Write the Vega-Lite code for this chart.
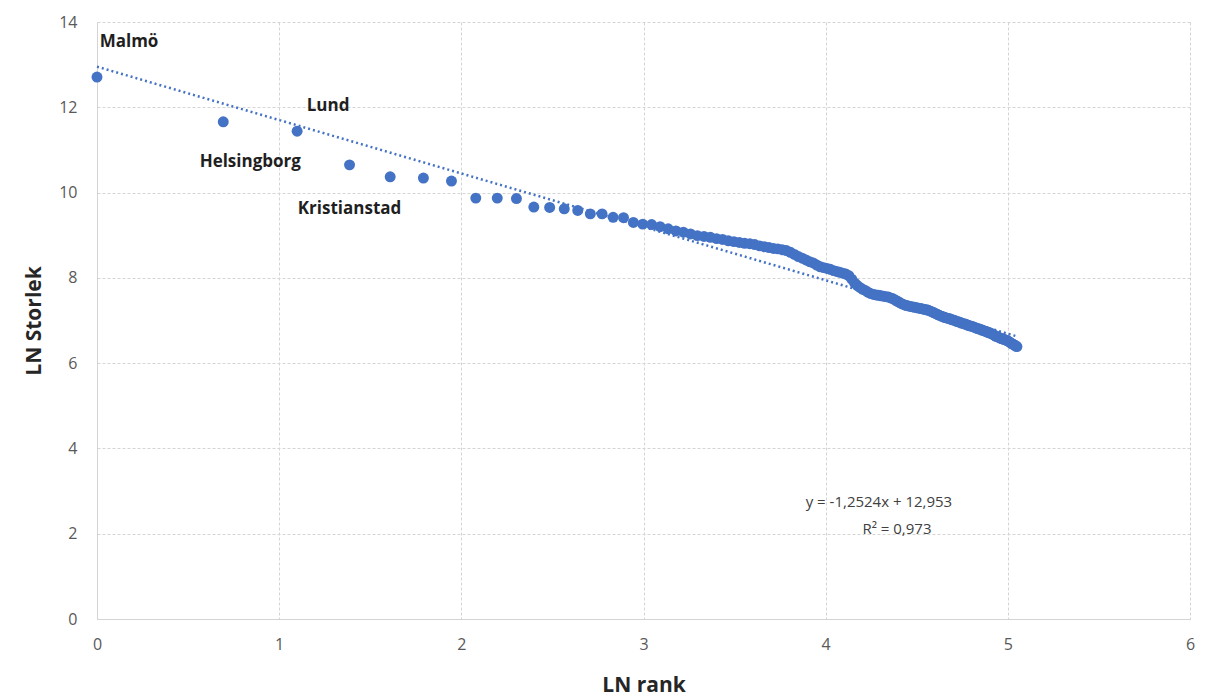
{
  "$schema": "https://vega.github.io/schema/vega-lite/v6.json",
  "width": 1093,
  "height": 597,
  "autosize": {"type": "none"},
  "padding": {"left": 97, "top": 22, "right": 18, "bottom": 79},
  "background": "white",
  "config": {
    "view": {"stroke": null},
    "font": "Open Sans",
    "axis": {
      "gridColor": "#d4d4d4",
      "gridDash": [3, 2],
      "gridWidth": 1,
      "domainColor": "#d4d4d4",
      "ticks": false,
      "labelColor": "#595959",
      "labelFontSize": 16,
      "labelFont": "Open Sans",
      "labelFlush": false,
      "titleFont": "Open Sans",
      "titleFontSize": 21,
      "titleFontWeight": "bold",
      "titleColor": "#262626"
    }
  },
  "datasets": {
    "cities": [
      {"rank": 1, "lnrank": 0, "lnsize": 12.71, "label": "Malmö"},
      {"rank": 2, "lnrank": 0.6931, "lnsize": 11.66, "label": "Helsingborg"},
      {"rank": 3, "lnrank": 1.0986, "lnsize": 11.44, "label": "Lund"},
      {"rank": 4, "lnrank": 1.3863, "lnsize": 10.65, "label": "Kristianstad"},
      {"rank": 5, "lnrank": 1.6094, "lnsize": 10.37},
      {"rank": 6, "lnrank": 1.7918, "lnsize": 10.34},
      {"rank": 7, "lnrank": 1.9459, "lnsize": 10.27},
      {"rank": 8, "lnrank": 2.0794, "lnsize": 9.87},
      {"rank": 9, "lnrank": 2.1972, "lnsize": 9.87},
      {"rank": 10, "lnrank": 2.3026, "lnsize": 9.86},
      {"rank": 11, "lnrank": 2.3979, "lnsize": 9.66},
      {"rank": 12, "lnrank": 2.4849, "lnsize": 9.65},
      {"rank": 13, "lnrank": 2.5649, "lnsize": 9.62},
      {"rank": 14, "lnrank": 2.6391, "lnsize": 9.58},
      {"rank": 15, "lnrank": 2.7081, "lnsize": 9.5},
      {"rank": 16, "lnrank": 2.7726, "lnsize": 9.5},
      {"rank": 17, "lnrank": 2.8332, "lnsize": 9.42},
      {"rank": 18, "lnrank": 2.8904, "lnsize": 9.41},
      {"rank": 19, "lnrank": 2.9444, "lnsize": 9.3},
      {"rank": 20, "lnrank": 2.9957, "lnsize": 9.26},
      {"rank": 21, "lnrank": 3.0445, "lnsize": 9.25},
      {"rank": 22, "lnrank": 3.091, "lnsize": 9.2},
      {"rank": 23, "lnrank": 3.1355, "lnsize": 9.15},
      {"rank": 24, "lnrank": 3.1781, "lnsize": 9.1},
      {"rank": 25, "lnrank": 3.2189, "lnsize": 9.07},
      {"rank": 26, "lnrank": 3.2581, "lnsize": 9.03},
      {"rank": 27, "lnrank": 3.2958, "lnsize": 8.99},
      {"rank": 28, "lnrank": 3.3322, "lnsize": 8.97},
      {"rank": 29, "lnrank": 3.3673, "lnsize": 8.95},
      {"rank": 30, "lnrank": 3.4012, "lnsize": 8.92},
      {"rank": 31, "lnrank": 3.434, "lnsize": 8.9},
      {"rank": 32, "lnrank": 3.4657, "lnsize": 8.87},
      {"rank": 33, "lnrank": 3.4965, "lnsize": 8.85},
      {"rank": 34, "lnrank": 3.5264, "lnsize": 8.83},
      {"rank": 35, "lnrank": 3.5553, "lnsize": 8.81},
      {"rank": 36, "lnrank": 3.5835, "lnsize": 8.8},
      {"rank": 37, "lnrank": 3.6109, "lnsize": 8.78},
      {"rank": 38, "lnrank": 3.6376, "lnsize": 8.75},
      {"rank": 39, "lnrank": 3.6636, "lnsize": 8.73},
      {"rank": 40, "lnrank": 3.6889, "lnsize": 8.71},
      {"rank": 41, "lnrank": 3.7136, "lnsize": 8.69},
      {"rank": 42, "lnrank": 3.7377, "lnsize": 8.68},
      {"rank": 43, "lnrank": 3.7612, "lnsize": 8.66},
      {"rank": 44, "lnrank": 3.7842, "lnsize": 8.64},
      {"rank": 45, "lnrank": 3.8067, "lnsize": 8.6},
      {"rank": 46, "lnrank": 3.8286, "lnsize": 8.55},
      {"rank": 47, "lnrank": 3.8501, "lnsize": 8.5},
      {"rank": 48, "lnrank": 3.8712, "lnsize": 8.46},
      {"rank": 49, "lnrank": 3.8918, "lnsize": 8.42},
      {"rank": 50, "lnrank": 3.912, "lnsize": 8.38},
      {"rank": 51, "lnrank": 3.9318, "lnsize": 8.35},
      {"rank": 52, "lnrank": 3.9512, "lnsize": 8.3},
      {"rank": 53, "lnrank": 3.9703, "lnsize": 8.26},
      {"rank": 54, "lnrank": 3.989, "lnsize": 8.24},
      {"rank": 55, "lnrank": 4.0073, "lnsize": 8.22},
      {"rank": 56, "lnrank": 4.0254, "lnsize": 8.2},
      {"rank": 57, "lnrank": 4.0431, "lnsize": 8.17},
      {"rank": 58, "lnrank": 4.0604, "lnsize": 8.15},
      {"rank": 59, "lnrank": 4.0775, "lnsize": 8.13},
      {"rank": 60, "lnrank": 4.0943, "lnsize": 8.11},
      {"rank": 61, "lnrank": 4.1109, "lnsize": 8.09},
      {"rank": 62, "lnrank": 4.1271, "lnsize": 8.05},
      {"rank": 63, "lnrank": 4.1431, "lnsize": 7.97},
      {"rank": 64, "lnrank": 4.1589, "lnsize": 7.88},
      {"rank": 65, "lnrank": 4.1744, "lnsize": 7.82},
      {"rank": 66, "lnrank": 4.1897, "lnsize": 7.77},
      {"rank": 67, "lnrank": 4.2047, "lnsize": 7.73},
      {"rank": 68, "lnrank": 4.2195, "lnsize": 7.7},
      {"rank": 69, "lnrank": 4.2341, "lnsize": 7.66},
      {"rank": 70, "lnrank": 4.2485, "lnsize": 7.63},
      {"rank": 71, "lnrank": 4.2627, "lnsize": 7.61},
      {"rank": 72, "lnrank": 4.2767, "lnsize": 7.6},
      {"rank": 73, "lnrank": 4.2905, "lnsize": 7.59},
      {"rank": 74, "lnrank": 4.3041, "lnsize": 7.58},
      {"rank": 75, "lnrank": 4.3175, "lnsize": 7.57},
      {"rank": 76, "lnrank": 4.3307, "lnsize": 7.56},
      {"rank": 77, "lnrank": 4.3438, "lnsize": 7.55},
      {"rank": 78, "lnrank": 4.3567, "lnsize": 7.53},
      {"rank": 79, "lnrank": 4.3694, "lnsize": 7.51},
      {"rank": 80, "lnrank": 4.382, "lnsize": 7.48},
      {"rank": 81, "lnrank": 4.3944, "lnsize": 7.45},
      {"rank": 82, "lnrank": 4.4067, "lnsize": 7.42},
      {"rank": 83, "lnrank": 4.4188, "lnsize": 7.39},
      {"rank": 84, "lnrank": 4.4308, "lnsize": 7.37},
      {"rank": 85, "lnrank": 4.4427, "lnsize": 7.35},
      {"rank": 86, "lnrank": 4.4543, "lnsize": 7.34},
      {"rank": 87, "lnrank": 4.4659, "lnsize": 7.33},
      {"rank": 88, "lnrank": 4.4773, "lnsize": 7.32},
      {"rank": 89, "lnrank": 4.4886, "lnsize": 7.31},
      {"rank": 90, "lnrank": 4.4998, "lnsize": 7.3},
      {"rank": 91, "lnrank": 4.5109, "lnsize": 7.29},
      {"rank": 92, "lnrank": 4.5218, "lnsize": 7.28},
      {"rank": 93, "lnrank": 4.5326, "lnsize": 7.27},
      {"rank": 94, "lnrank": 4.5433, "lnsize": 7.26},
      {"rank": 95, "lnrank": 4.5539, "lnsize": 7.25},
      {"rank": 96, "lnrank": 4.5643, "lnsize": 7.24},
      {"rank": 97, "lnrank": 4.5747, "lnsize": 7.22},
      {"rank": 98, "lnrank": 4.585, "lnsize": 7.2},
      {"rank": 99, "lnrank": 4.5951, "lnsize": 7.18},
      {"rank": 100, "lnrank": 4.6052, "lnsize": 7.16},
      {"rank": 101, "lnrank": 4.6151, "lnsize": 7.14},
      {"rank": 102, "lnrank": 4.625, "lnsize": 7.12},
      {"rank": 103, "lnrank": 4.6347, "lnsize": 7.1},
      {"rank": 104, "lnrank": 4.6444, "lnsize": 7.09},
      {"rank": 105, "lnrank": 4.654, "lnsize": 7.07},
      {"rank": 106, "lnrank": 4.6634, "lnsize": 7.06},
      {"rank": 107, "lnrank": 4.6728, "lnsize": 7.05},
      {"rank": 108, "lnrank": 4.6821, "lnsize": 7.04},
      {"rank": 109, "lnrank": 4.6913, "lnsize": 7.02},
      {"rank": 110, "lnrank": 4.7005, "lnsize": 7.01},
      {"rank": 111, "lnrank": 4.7095, "lnsize": 7.0},
      {"rank": 112, "lnrank": 4.7185, "lnsize": 6.98},
      {"rank": 113, "lnrank": 4.7274, "lnsize": 6.97},
      {"rank": 114, "lnrank": 4.7362, "lnsize": 6.96},
      {"rank": 115, "lnrank": 4.7449, "lnsize": 6.94},
      {"rank": 116, "lnrank": 4.7536, "lnsize": 6.93},
      {"rank": 117, "lnrank": 4.7622, "lnsize": 6.92},
      {"rank": 118, "lnrank": 4.7707, "lnsize": 6.91},
      {"rank": 119, "lnrank": 4.7791, "lnsize": 6.89},
      {"rank": 120, "lnrank": 4.7875, "lnsize": 6.88},
      {"rank": 121, "lnrank": 4.7958, "lnsize": 6.87},
      {"rank": 122, "lnrank": 4.804, "lnsize": 6.86},
      {"rank": 123, "lnrank": 4.8122, "lnsize": 6.85},
      {"rank": 124, "lnrank": 4.8203, "lnsize": 6.83},
      {"rank": 125, "lnrank": 4.8283, "lnsize": 6.82},
      {"rank": 126, "lnrank": 4.8363, "lnsize": 6.81},
      {"rank": 127, "lnrank": 4.8442, "lnsize": 6.8},
      {"rank": 128, "lnrank": 4.852, "lnsize": 6.79},
      {"rank": 129, "lnrank": 4.8598, "lnsize": 6.77},
      {"rank": 130, "lnrank": 4.8675, "lnsize": 6.76},
      {"rank": 131, "lnrank": 4.8752, "lnsize": 6.75},
      {"rank": 132, "lnrank": 4.8828, "lnsize": 6.74},
      {"rank": 133, "lnrank": 4.8903, "lnsize": 6.72},
      {"rank": 134, "lnrank": 4.8978, "lnsize": 6.71},
      {"rank": 135, "lnrank": 4.9053, "lnsize": 6.7},
      {"rank": 136, "lnrank": 4.9127, "lnsize": 6.69},
      {"rank": 137, "lnrank": 4.92, "lnsize": 6.67},
      {"rank": 138, "lnrank": 4.9273, "lnsize": 6.65},
      {"rank": 139, "lnrank": 4.9345, "lnsize": 6.63},
      {"rank": 140, "lnrank": 4.9416, "lnsize": 6.62},
      {"rank": 141, "lnrank": 4.9488, "lnsize": 6.61},
      {"rank": 142, "lnrank": 4.9558, "lnsize": 6.59},
      {"rank": 143, "lnrank": 4.9628, "lnsize": 6.58},
      {"rank": 144, "lnrank": 4.9698, "lnsize": 6.57},
      {"rank": 145, "lnrank": 4.9767, "lnsize": 6.56},
      {"rank": 146, "lnrank": 4.9836, "lnsize": 6.55},
      {"rank": 147, "lnrank": 4.9904, "lnsize": 6.54},
      {"rank": 148, "lnrank": 4.9972, "lnsize": 6.53},
      {"rank": 149, "lnrank": 5.0039, "lnsize": 6.51},
      {"rank": 150, "lnrank": 5.0106, "lnsize": 6.49},
      {"rank": 151, "lnrank": 5.0173, "lnsize": 6.47},
      {"rank": 152, "lnrank": 5.0239, "lnsize": 6.45},
      {"rank": 153, "lnrank": 5.0304, "lnsize": 6.44},
      {"rank": 154, "lnrank": 5.037, "lnsize": 6.42},
      {"rank": 155, "lnrank": 5.0434, "lnsize": 6.4},
      {"rank": 156, "lnrank": 5.0499, "lnsize": 6.39}
    ],
    "trend": [
      {"lnrank": 0, "lnsize": 12.953, "end": false},
      {"lnrank": 5.05, "lnsize": 6.628, "end": true}
    ]
  },
  "encoding": {
    "x": {
      "field": "lnrank",
      "type": "quantitative",
      "scale": {"domain": [0, 6], "nice": false},
      "axis": {"title": "LN rank", "values": [0, 1, 2, 3, 4, 5, 6], "format": "d", "labelPadding": 17, "titlePadding": 22}
    },
    "y": {
      "field": "lnsize",
      "type": "quantitative",
      "scale": {"domain": [0, 14], "nice": false},
      "axis": {"title": "LN Storlek", "values": [0, 2, 4, 6, 8, 10, 12, 14], "format": "d", "labelPadding": 20, "titlePadding": 14}
    }
  },
  "layer": [
    {
      "data": {"name": "trend"},
      "mark": {"type": "line", "color": "#4472C4", "strokeDash": [2, 3], "strokeWidth": 2.5}
    },
    {
      "data": {"name": "cities"},
      "mark": {"type": "circle", "size": 120, "color": "#4472C4", "opacity": 1}
    },
    {
      "data": {"name": "cities"},
      "transform": [{"filter": "datum.label === 'Malmö'"}],
      "mark": {"type": "text", "fontSize": 17, "fontWeight": "bold", "color": "#1f1f1f", "align": "center", "baseline": "middle", "dx": 32, "dy": -35},
      "encoding": {"text": {"field": "label"}}
    },
    {
      "data": {"name": "cities"},
      "transform": [{"filter": "datum.label === 'Lund'"}],
      "mark": {"type": "text", "fontSize": 17, "fontWeight": "bold", "color": "#1f1f1f", "align": "center", "baseline": "middle", "dx": 31, "dy": -25},
      "encoding": {"text": {"field": "label"}}
    },
    {
      "data": {"name": "cities"},
      "transform": [{"filter": "datum.label === 'Helsingborg'"}],
      "mark": {"type": "text", "fontSize": 17, "fontWeight": "bold", "color": "#1f1f1f", "align": "center", "baseline": "middle", "dx": 27, "dy": 40},
      "encoding": {"text": {"field": "label"}}
    },
    {
      "data": {"name": "cities"},
      "transform": [{"filter": "datum.label === 'Kristianstad'"}],
      "mark": {"type": "text", "fontSize": 17, "fontWeight": "bold", "color": "#1f1f1f", "align": "center", "baseline": "middle", "dx": 0, "dy": 44},
      "encoding": {"text": {"field": "label"}}
    },
    {
      "data": {"name": "trend"},
      "transform": [{"filter": "datum.end"}],
      "mark": {"type": "text", "fontSize": 15, "color": "#404040", "align": "center", "baseline": "middle", "dx": -138, "dy": 166},
      "encoding": {"text": {"value": "y = -1,2524x + 12,953"}}
    },
    {
      "data": {"name": "trend"},
      "transform": [{"filter": "datum.end"}],
      "mark": {"type": "text", "fontSize": 15, "color": "#404040", "align": "center", "baseline": "middle", "dx": -120, "dy": 193},
      "encoding": {"text": {"value": "R² = 0,973"}}
    }
  ]
}
